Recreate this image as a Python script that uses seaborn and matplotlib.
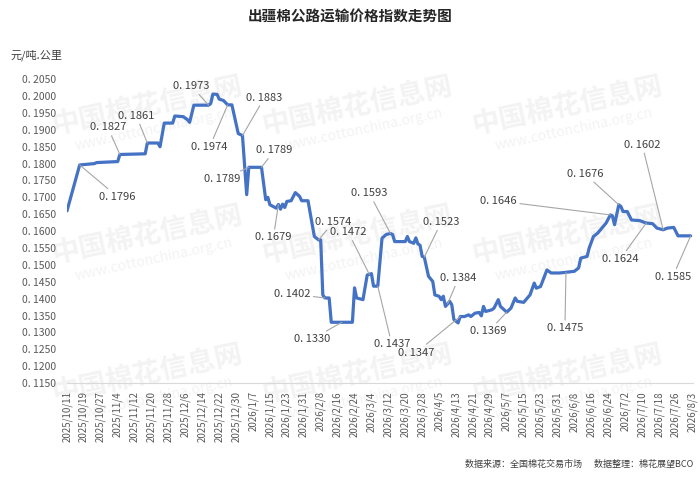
import matplotlib
matplotlib.use("Agg")
import matplotlib.pyplot as plt
import seaborn as sns
import pandas as pd

# days since 2025/10/11 and index value (元/吨.公里)
start_date = "2025-10-11"
day_offsets = [
    0, 6, 13, 14, 24, 25, 37, 38, 43, 44, 46, 50, 51, 55, 57, 58, 60, 67, 68, 69,
    71, 72, 74, 76, 78, 81, 83, 85, 86, 92, 94, 95, 96, 99, 100, 101, 102, 103, 104, 106,
    108, 110, 111, 114, 117, 119, 120, 121, 122, 124, 125, 130, 135, 136, 137, 140, 142, 143, 144, 145,
    147, 149, 151, 153, 154, 155, 160, 161, 162, 164, 165, 166, 167, 168, 169, 171, 173, 174, 176, 177,
    178, 179, 180, 181, 182, 183, 185, 186, 188, 190, 191, 193, 195, 196, 197, 198, 201, 202, 204, 205,
    208, 210, 212, 213, 216, 219, 221, 222, 224, 227, 229, 233, 236, 240, 242, 243, 246, 247, 249, 251,
    253, 255, 257, 258, 259, 261, 262, 263, 265, 267, 271, 273, 274, 277, 279, 282, 284, 287, 289, 295,
]
index_values = [
    0.1660, 0.1796, 0.1800, 0.1803, 0.1806, 0.1827, 0.1829, 0.1861, 0.1861, 0.1850,
    0.1920, 0.1920, 0.1941, 0.1939, 0.1930, 0.1922, 0.1973, 0.1973, 0.1978, 0.2006,
    0.2005, 0.1991, 0.1987, 0.1974, 0.1974, 0.1889, 0.1883, 0.1708, 0.1789, 0.1789,
    0.1693, 0.1700, 0.1678, 0.1668, 0.1679, 0.1665, 0.1680, 0.1670, 0.1688, 0.1690,
    0.1714, 0.1703, 0.1690, 0.1690, 0.1584, 0.1574, 0.1574, 0.1411, 0.1402, 0.1402,
    0.1330, 0.1330, 0.1330, 0.1432, 0.1402, 0.1397, 0.1470, 0.1472, 0.1474, 0.1437,
    0.1437, 0.1579, 0.1590, 0.1593, 0.1590, 0.1569, 0.1569, 0.1584, 0.1569, 0.1564,
    0.1580, 0.1562, 0.1558, 0.1525, 0.1523, 0.1466, 0.1451, 0.1411, 0.1407, 0.1397,
    0.1407, 0.1377, 0.1384, 0.1392, 0.1382, 0.1338, 0.1328, 0.1347, 0.1347, 0.1352,
    0.1347, 0.1357, 0.1359, 0.1349, 0.1377, 0.1362, 0.1367, 0.1372, 0.1397, 0.1377,
    0.1360, 0.1372, 0.1402, 0.1392, 0.1389, 0.1411, 0.1446, 0.1431, 0.1436, 0.1485,
    0.1476, 0.1476, 0.1478, 0.1481, 0.1491, 0.1520, 0.1525, 0.1550, 0.1584, 0.1594,
    0.1609, 0.1624, 0.1648, 0.1645, 0.1619, 0.1678, 0.1673, 0.1658, 0.1658, 0.1633,
    0.1631, 0.1626, 0.1624, 0.1622, 0.1609, 0.1604, 0.1609, 0.1611, 0.1586, 0.1586,
]

# labelled points: day offset and label text
label_days = [6, 25, 38, 67, 76, 83, 92, 86, 100, 119, 143, 122, 130, 147, 153,
              169, 180, 186, 208, 236, 274, 295, 257, 261, 282]
label_texts = ["0.1796", "0.1827", "0.1861", "0.1973", "0.1974", "0.1883", "0.1789",
               "0.1789", "0.1679", "0.1574", "0.1472", "0.1402", "0.1330", "0.1437",
               "0.1593", "0.1523", "0.1384", "0.1347", "0.1369", "0.1475", "0.1624",
               "0.1585", "0.1646", "0.1676", "0.1602"]

title = "出疆棉公路运输价格指数走势图"
y_label = "元/吨.公里"
source_text = "数据来源：全国棉花交易市场      数据整理：棉花展望BCO"

start = pd.Timestamp(start_date)
df = pd.DataFrame({
    "date": [start + pd.Timedelta(days=d) for d in day_offsets],
    "value": index_values,
})

sns.set_style("white")
plt.rcParams["font.family"] = ["Noto Sans CJK SC", "DejaVu Sans"]

fig = plt.figure(figsize=(7, 4.8), dpi=100)
ax = fig.add_axes([0.0957, 0.202, 0.894, 0.633])
ax.set_zorder(2)
ax.patch.set_alpha(0)

# faint watermark behind the chart
for wx in [0.21, 0.51, 0.81]:
    for wy in [0.78, 0.51, 0.22]:
        fig.text(wx, wy, "中国棉花信息网", fontsize=20, fontweight="bold", color="#f3f3f3",
                 rotation=12, ha="center", va="center", zorder=0)
        fig.text(wx + 0.01, wy - 0.05, "www.cottonchina.org.cn", fontsize=10, color="#f3f3f3",
                 rotation=12, ha="center", va="center", zorder=0)

sns.lineplot(data=df, x="date", y="value", ax=ax, color="#4472C4", linewidth=2.3, zorder=3)

offsets = [(38, -32), (-12, 27), (-11, 27), (-17, 19), (-18, -42), (22, 38), (13, 17),
           (-27, -12), (-5, -33), (15, 18), (-21, 42), (-33, 4), (-30, -17), (14, -58),
           (-21, 40), (17, 35), (11, 26), (-44, -36), (-18, -19), (-1, -56), (-26, -36),
           (-18, -41), (-112, 14), (-34, 31), (-21, 85)]
lookup = dict(zip(day_offsets, index_values))
for d, txt, off in zip(label_days, label_texts, offsets):
    ax.annotate(txt.replace(".", ". "), xy=(start + pd.Timedelta(days=d), lookup[d]),
                xytext=off, textcoords="offset pixels", ha="center", va="center",
                fontsize=8, color="#404040", zorder=4,
                arrowprops=dict(arrowstyle="-", color="#a6a6a6", lw=0.8, shrinkA=0, shrinkB=0))

ticks = pd.date_range(start, start + pd.Timedelta(days=296), freq="8D")
ax.set_xticks(ticks)
ax.set_xticklabels([f"{t.year}/{t.month}/{t.day}" for t in ticks], rotation=90,
                   fontsize=7, color="#595959")
ax.set_xlim(ticks[0], ticks[-1])

yticks = [0.115 + 0.005 * i for i in range(19)]
ax.set_yticks(yticks)
ax.set_yticklabels([f"{v:.4f}".replace(".", ". ") for v in yticks], fontsize=7.5, color="#595959")
ax.set_ylim(0.115, 0.205)

ax.set_xlabel("")
ax.set_ylabel("")
for s in ["top", "right", "left"]:
    ax.spines[s].set_visible(False)
ax.spines["bottom"].set_color("#d9d9d9")
ax.tick_params(axis="x", length=4, color="#d9d9d9", pad=2)
ax.tick_params(axis="y", length=0, pad=8)

fig.text(0.5, 0.965, title, ha="center", va="center", fontsize=10.5, fontweight="bold")
fig.text(0.015, 0.885, y_label, ha="left", va="center", fontsize=8, color="#404040")
fig.text(0.99, 0.032, source_text, ha="right", va="center", fontsize=6.5, color="#404040")

plt.savefig("out.png", dpi=100)
plt.close()
